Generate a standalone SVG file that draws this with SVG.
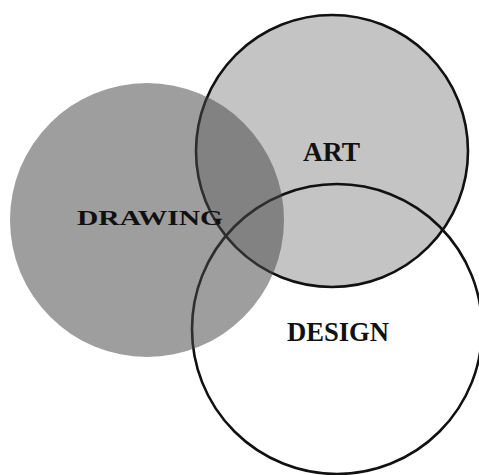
<svg xmlns="http://www.w3.org/2000/svg" width="479" height="475" viewBox="0 0 479 475">
<style>
.outline{stroke:#111;stroke-width:2.6}
.lbl{font-family:"Liberation Serif","Times New Roman",serif;font-weight:bold;fill:#111}
</style>
<rect width="479" height="475" fill="#ffffff"/>
<g id="art">
<circle class="outline" cx="332" cy="151" r="136" fill="#c4c4c4"/>
<text class="lbl" x="303" y="161" font-size="28" textLength="57" lengthAdjust="spacingAndGlyphs">ART</text>
</g>
<g id="design">
<circle class="outline" cx="337" cy="329" r="145" fill="none"/>
<text class="lbl" x="287" y="341" font-size="27" textLength="102" lengthAdjust="spacingAndGlyphs">DESIGN</text>
</g>
<g id="drawing">
<circle cx="147" cy="220" r="137" fill="#474747" fill-opacity="0.53"/>
<text class="lbl" x="77" y="225" font-size="21" textLength="146" lengthAdjust="spacingAndGlyphs">DRAWING</text>
</g>
</svg>
